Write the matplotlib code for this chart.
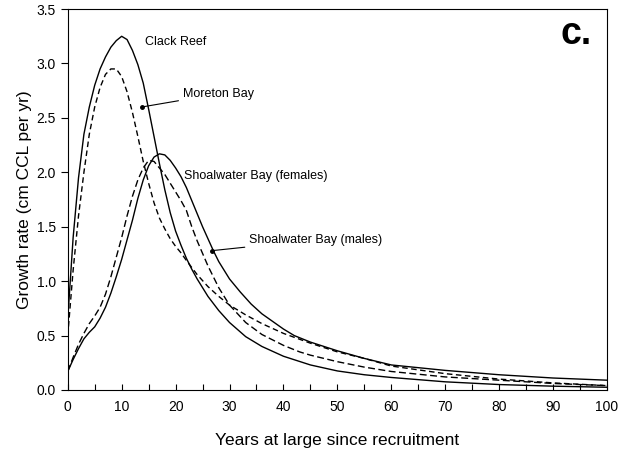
import numpy as np
import matplotlib
matplotlib.use('Agg')
import matplotlib.pyplot as plt

plt.rcParams['font.family'] = ['Liberation Sans', 'DejaVu Sans']

# growth curves (years at large, growth rate cm CCL/yr)
clack_x = [0, 1, 2, 3, 4, 5, 6, 7, 8, 9, 10, 11, 12, 13, 14, 15, 16, 17, 18, 19,
           20, 21, 22, 23, 24, 26, 28, 30, 33, 36, 40, 45, 50, 55, 60, 70, 80, 90, 100]
clack_y = [0.65, 1.40, 1.95, 2.35, 2.60, 2.80, 2.95, 3.06, 3.15, 3.21, 3.25, 3.22, 3.12,
           2.99, 2.82, 2.58, 2.33, 2.08, 1.84, 1.63, 1.46, 1.33, 1.21, 1.11, 1.02, 0.86,
           0.73, 0.62, 0.49, 0.40, 0.31, 0.23, 0.175, 0.14, 0.115, 0.075, 0.05, 0.035, 0.025]

moreton_x = [0, 1, 2, 3, 4, 5, 6, 7, 8, 9, 10, 11, 12, 13, 14, 15, 16, 17, 18, 19,
             20, 21, 22, 24, 26, 28, 30, 33, 36, 40, 45, 50, 55, 60, 70, 80, 90, 100]
moreton_y = [0.50, 1.10, 1.60, 2.00, 2.35, 2.60, 2.78, 2.90, 2.95, 2.95, 2.88, 2.74, 2.55,
             2.33, 2.10, 1.90, 1.72, 1.58, 1.48, 1.39, 1.32, 1.26, 1.19, 1.06, 0.95, 0.86,
             0.78, 0.69, 0.61, 0.52, 0.43, 0.35, 0.29, 0.22, 0.15, 0.10, 0.065, 0.04]

males_x = [0, 1, 2, 3, 4, 5, 6, 7, 8, 9, 10, 11, 12, 13, 14, 15, 16, 17, 18, 19, 20,
           21, 22, 23, 24, 25, 26, 27, 28, 30, 32, 34, 36, 38, 40, 42, 45, 50, 55, 60,
           70, 80, 90, 100]
males_y = [0.17, 0.28, 0.38, 0.47, 0.53, 0.58, 0.66, 0.76, 0.89, 1.04, 1.20, 1.38, 1.56,
           1.76, 1.93, 2.06, 2.14, 2.17, 2.16, 2.11, 2.04, 1.96, 1.86, 1.74, 1.62, 1.50,
           1.39, 1.28, 1.18, 1.02, 0.90, 0.79, 0.70, 0.63, 0.56, 0.50, 0.44, 0.36, 0.29,
           0.23, 0.18, 0.14, 0.11, 0.09]

females_x = [0, 1, 2, 3, 4, 5, 6, 7, 8, 9, 10, 11, 12, 13, 14, 15, 16, 17, 18, 19, 20,
             21, 22, 23, 24, 26, 28, 30, 33, 36, 40, 43, 45, 50, 55, 60, 70, 80, 90, 100]
females_y = [0.17, 0.30, 0.42, 0.52, 0.61, 0.68, 0.76, 0.88, 1.04, 1.22, 1.40, 1.60, 1.78,
             1.93, 2.04, 2.11, 2.10, 2.04, 1.98, 1.90, 1.82, 1.74, 1.65, 1.50, 1.37, 1.14,
             0.94, 0.78, 0.62, 0.51, 0.41, 0.35, 0.32, 0.26, 0.21, 0.17, 0.12, 0.09, 0.06, 0.04]

# labels: text, text position, arrow tip (None = plain label)
labels = [
    ("Clack Reef", (14.3, 3.20), None),
    ("Moreton Bay", (21.3, 2.72), (13.7, 2.60)),
    ("Shoalwater Bay (females)", (21.6, 1.97), None),
    ("Shoalwater Bay (males)", (33.6, 1.38), (26.7, 1.28)),
]

fig = plt.figure(figsize=(6.39, 4.54), dpi=100)
ax = fig.add_axes([0.106, 0.141, 0.844, 0.839])

ax.plot(clack_x, clack_y, color='black', lw=1.0)
ax.plot(moreton_x, moreton_y, color='black', lw=1.0, dashes=(4, 2.5))
ax.plot(females_x, females_y, color='black', lw=1.0, dashes=(5, 2.5))
ax.plot(males_x, males_y, color='black', lw=1.0)

for txt, pos, tip in labels:
    if tip is None:
        ax.text(pos[0], pos[1], txt, fontsize=9, va='center', ha='left')
    else:
        ax.annotate(txt, xy=tip, xytext=pos, fontsize=9, va='center', ha='left',
                    arrowprops=dict(arrowstyle='-', color='black', lw=0.8,
                                    shrinkA=1, shrinkB=0))
        ax.plot(tip[0], tip[1], 'o', color='black', ms=2.5)

ax.text(0.972, 0.935, "c.", transform=ax.transAxes, fontsize=27,
        fontweight='bold', ha='right', va='center')

ax.set_xlim(0, 100)
ax.set_ylim(0, 3.5)
ax.set_xticks(np.arange(0, 101, 10))
ax.set_xticks(np.arange(0, 101, 5), minor=True)
ax.set_yticks(np.arange(0, 3.51, 0.5))
ax.set_yticklabels(["%.1f" % v for v in np.arange(0, 3.51, 0.5)])
ax.tick_params(axis='x', which='both', direction='in', length=4, width=0.8,
               labelsize=10, pad=7)
ax.tick_params(axis='y', direction='out', length=5, width=0.8, labelsize=10)
for s in ax.spines.values():
    s.set_linewidth(0.8)

ax.set_xlabel("Years at large since recruitment", fontsize=12.5, labelpad=14)
ax.set_ylabel("Growth rate (cm CCL per yr)", fontsize=12.5, labelpad=3)

plt.savefig('out.png', dpi=100)
